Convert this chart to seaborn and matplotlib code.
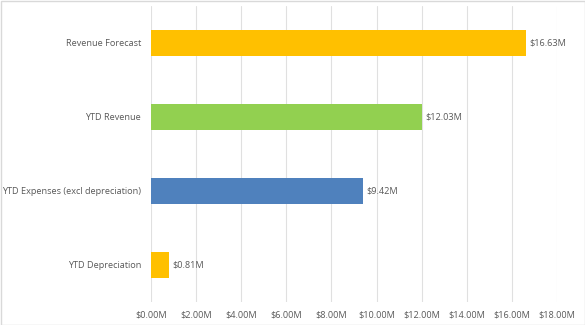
import matplotlib
matplotlib.use("Agg")
import matplotlib.pyplot as plt
import seaborn as sns
import pandas as pd
from matplotlib.ticker import FuncFormatter, MultipleLocator

categories = ["Revenue Forecast", "YTD Revenue", "YTD Expenses (excl depreciation)", "YTD Depreciation"]
values = [16.63, 12.03, 9.42, 0.81]
colors = ["#FFC000", "#92D050", "#4F81BD", "#FFC000"]

sns.set_theme(style="white")
plt.rcParams['font.family'] = ['Open Sans', 'DejaVu Sans']

df = pd.DataFrame({"cat": categories, "val": values})

fig = plt.figure(figsize=(5.85, 3.25), dpi=100)
ax = fig.add_axes([151/585, 1 - 302/325, 406/585, 296/325])

sns.barplot(data=df, x="val", y="cat", hue="cat", palette=colors, orient="h",
            width=0.35, ax=ax, legend=False, saturation=1, edgecolor="none")

ax.set_xlim(0, 18)
ax.xaxis.set_major_locator(MultipleLocator(2))
ax.xaxis.set_major_formatter(FuncFormatter(lambda v, p: f"${v:.2f}M"))
ax.grid(axis="x", color="#E0E0E0", linewidth=0.8)
ax.set_axisbelow(True)
for s in ax.spines.values():
    s.set_visible(False)
ax.set_xlabel("")
ax.set_ylabel("")
ax.tick_params(axis="both", length=0, labelsize=6.6, colors="#595959")
ax.tick_params(axis="x", pad=6)
ax.tick_params(axis="y", pad=7)

for i, v in enumerate(values):
    ax.text(v + 0.15, i, f"${v:.2f}M", va="center", ha="left", fontsize=6.6, color="#595959")

fig.patches.append(plt.Rectangle((0.5/585, 0.5/325), 584/585, 324/325, transform=fig.transFigure,
                                 fill=False, edgecolor="#D9D9D9", linewidth=1))
fig.savefig("out.png", dpi=100)
